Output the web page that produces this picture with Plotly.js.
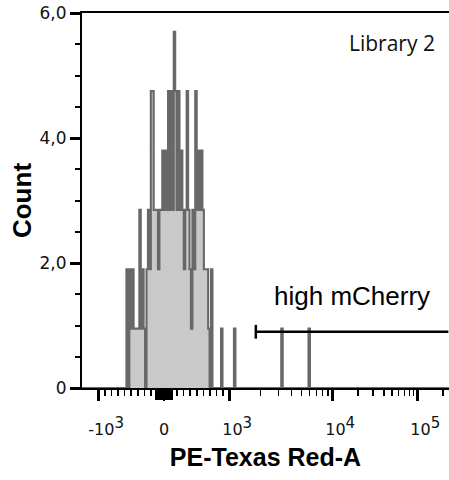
<!DOCTYPE html>
<html><head><meta charset="utf-8">
<script src="https://cdn.plot.ly/plotly-3.0.1.min.js"></script>
<style>html,body{margin:0;padding:0;background:#fff}</style>
</head><body><div id="chart" style="width:449px;height:480px"></div>
<script>
// Histogram: display bins (256-channel biexponential display scale) and counts
const binChannel = [31, 33, 34, 35, 36, 37, 38, 39, 40, 41, 42, 43, 45, 46, 47, 48, 49, 50,
  51, 52, 53, 54, 55, 56, 57, 58, 59, 60, 61, 62, 63, 64, 65, 66, 67, 68, 69, 70,
  71, 72, 73, 74, 75, 76, 77, 78, 79, 80, 81, 82, 83, 84, 85, 86, 87, 88, 90, 97, 106, 139, 158];
const binCount = [1.9, 1.9, 0.95, 1.9, 0.95, 0.95, 0.95, 0.95, 2.85, 0.95, 1.9, 0.95, 1.9, 2.85, 1.9, 4.75, 4.75, 2.85,
  2.85, 2.85, 1.9, 2.85, 2.85, 3.8, 2.85, 3.8, 2.85, 4.75, 2.85, 4.75, 2.85, 5.7, 4.75, 2.85, 4.75, 2.85, 3.8, 2.85,
  1.9, 2.85, 4.75, 2.85, 1.9, 0.95, 2.85, 1.9, 4.75, 2.85, 3.8, 2.85, 3.8, 2.85, 1.9, 1.9, 1.9, 0.95, 1.9, 0.95, 0.95, 0.95, 0.95];

// Axis ticks (fluorescence values)
const majorTickValues = [-1000, 0, 1000, 10000, 100000];
const majorTickBases = ['-10', '0', '10', '10', '10'];
const majorTickExponents = ['3', '', '3', '4', '5'];
const zeroClusterTicks = [-120, -100, -80, -60, -40, -20, 0, 20, 40, 60, 80, 100, 120];
const minorTickValues = [-900, -800, -700, -600, -500, -400, -300, -200,
  200, 300, 400, 500, 600, 700, 800, 900,
  2000, 3000, 4000, 5000, 6000, 7000, 8000, 9000,
  20000, 30000, 40000, 50000, 60000, 70000, 80000, 90000, 200000];
const yTickValues = [0, 2, 4, 6];
const yTickLabels = ['0', '2,0', '4,0', '6,0'];

// Gate
const gateName = 'high mCherry';
const gateLow = 1800;
const gateHigh = 230000;
const gateLevel = 0.9;
const sampleName = 'Library 2';

// Biexponential display scale -> channel (0..256)
const N_CH = 256;
const CORE_ZERO = 57.2, CORE_SLOPE = 45.7, DECADE_LOW = 71.9, DECADE_HIGH = 59.3;
function toChannel(v) {
  const a = Math.abs(v);
  let d;
  if (a <= 1000) d = CORE_SLOPE * a / 1000;
  else if (a <= 10000) d = CORE_SLOPE + DECADE_LOW * Math.log10(a / 1000);
  else d = CORE_SLOPE + DECADE_LOW + DECADE_HIGH * Math.log10(a / 10000);
  return CORE_ZERO + Math.sign(v) * d;
}

const majorTickText = majorTickBases.map((b, i) => majorTickExponents[i]
  ? '&nbsp;&nbsp;&nbsp;' + b + '<sup><span style="font-size:15px">' + majorTickExponents[i] + '</span></sup>'
  : b);

const counts = new Array(N_CH).fill(0);
binChannel.forEach((c, i) => { counts[c] = binCount[i]; });
const xs = [], ys = [];
for (let c = 0; c < N_CH; c++) { xs.push(c); ys.push(counts[c]); }
xs.push(N_CH); ys.push(0);

const hist = {
  type: 'scatter', mode: 'lines', x: xs, y: ys,
  line: { shape: 'hv', color: '#686868', width: 2.1 },
  fill: 'tozeroy', fillcolor: '#c9c9c9', hoverinfo: 'skip'
};
// empty trace that carries the dense tick cluster around zero
const tickCarrier = { type: 'scatter', mode: 'none', x: [], y: [], xaxis: 'x2', yaxis: 'y', hoverinfo: 'skip' };

const gx0 = toChannel(gateLow);
const gx1 = Math.min(toChannel(gateHigh), N_CH);

const layout = {
  width: 449, height: 480,
  margin: { l: 82, r: 0, t: 13, b: 92 },
  paper_bgcolor: '#fff', plot_bgcolor: '#fff', showlegend: false,
  xaxis: {
    range: [0, N_CH], fixedrange: true,
    tickmode: 'array',
    tickvals: majorTickValues.map(toChannel),
    ticktext: majorTickText,
    ticks: 'outside', ticklen: 11, tickwidth: 2.5, tickcolor: '#000',
    ticklabelstandoff: 15,
    showline: true, linecolor: '#000', linewidth: 2, mirror: true,
    showgrid: false, zeroline: false,
    tickfont: { family: 'DejaVu Sans', size: 16, color: '#111' },
    minor: { tickvals: minorTickValues.map(toChannel), ticks: 'outside', ticklen: 6, tickwidth: 1.5, tickcolor: '#000', showgrid: false },
    title: { text: 'PE-Texas Red-A', font: { family: 'Liberation Sans', size: 25, weight: 'bold', color: '#000' }, standoff: 10 }
  },
  xaxis2: {
    overlaying: 'x', anchor: 'y', side: 'bottom', range: [0, N_CH], fixedrange: true,
    tickmode: 'array', tickvals: zeroClusterTicks.map(toChannel),
    showticklabels: false, ticks: 'outside', ticklen: 11, tickwidth: 2, tickcolor: '#000',
    showline: false, showgrid: false, zeroline: false
  },
  yaxis: {
    range: [0, 6], fixedrange: true,
    tickmode: 'array', tickvals: yTickValues, ticktext: yTickLabels,
    ticks: 'outside', ticklen: 10, tickwidth: 3, tickcolor: '#000',
    showline: true, linecolor: '#000', linewidth: 2,
    showgrid: false, zeroline: false,
    tickfont: { family: 'DejaVu Sans', size: 17, color: '#111' },
    minor: { dtick: 0.5, ticks: 'outside', ticklen: 5, tickwidth: 2, tickcolor: '#000', showgrid: false },
    title: { text: 'Count', font: { family: 'Liberation Sans', size: 26, weight: 'bold', color: '#000' }, standoff: 0 }
  },
  shapes: [
    { type: 'line', xref: 'x', yref: 'y', x0: gx0, x1: gx1, y0: gateLevel, y1: gateLevel, line: { color: '#000', width: 2.5 } },
    { type: 'line', xref: 'x', yref: 'y', x0: gx0, x1: gx0, y0: gateLevel - 0.11, y1: gateLevel + 0.11, line: { color: '#000', width: 2.5 } }
  ],
  annotations: [
    { text: gateName, xref: 'x', yref: 'y', x: (gx0 + gx1) / 2, y: 1.47, xanchor: 'center', yanchor: 'middle', showarrow: false,
      font: { family: 'Liberation Sans', size: 26, color: '#000' } },
    { text: sampleName, xref: 'paper', yref: 'paper', x: 0.967, y: 0.92, xanchor: 'right', yanchor: 'middle', showarrow: false,
      font: { family: 'Open Sans', size: 21, color: '#111' } }
  ]
};

Plotly.newPlot('chart', [hist, tickCarrier], layout, { displayModeBar: false, staticPlot: true });
</script>
</body></html>
